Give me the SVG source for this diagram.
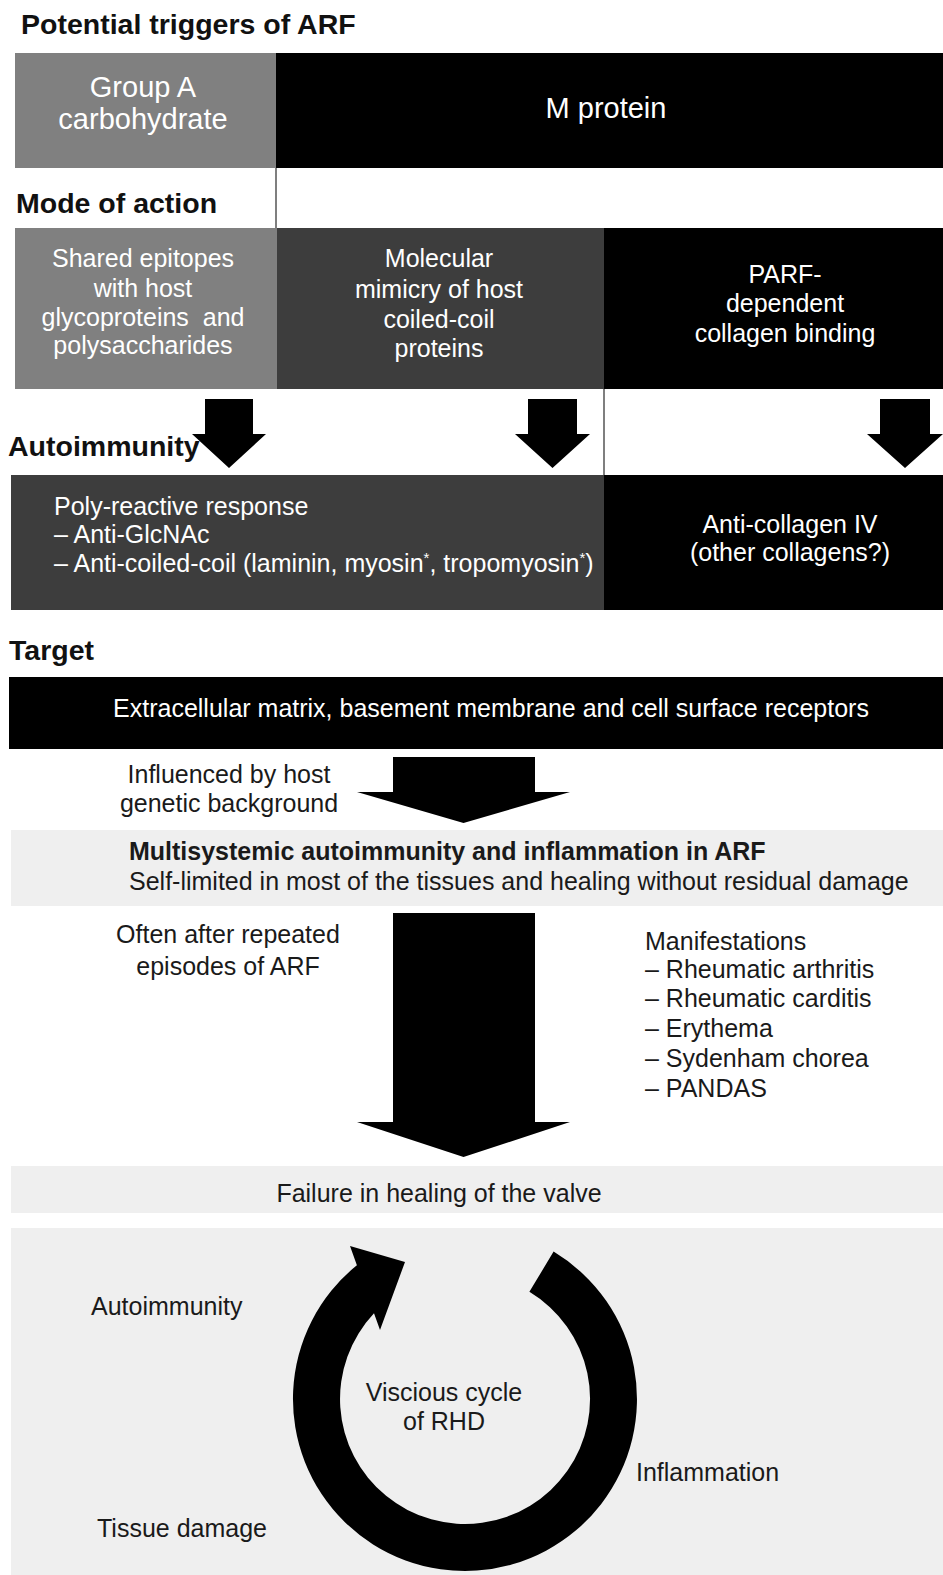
<svg xmlns="http://www.w3.org/2000/svg" width="943" height="1575" viewBox="0 0 943 1575">
<style>
text{font-family:"Liberation Sans",Arial,Helvetica,sans-serif;fill:#1a1a1a;}
.h{font-size:28.5px;font-weight:bold;fill:#111;}
.t29{font-size:29px;}
.b{font-size:25px;}
.w{fill:#fff;}
.c{text-anchor:middle;}
.mb{font-size:25px;font-weight:bold;}
.sup{font-size:15px;}
.gray{fill:#808080;}
.dark{fill:#3d3d3d;}
.black{fill:#000;}
.band{fill:#efefef;}
.sep{stroke:#555;stroke-width:1.5;fill:none;}
.arrow{fill:#000;}
</style>
<rect x="0" y="0" width="943" height="1575" fill="#fff"/>

<g id="labels">
<text class="h" x="21" y="34">Potential triggers of ARF</text>
<text class="h" x="16" y="213">Mode of action</text>
<text class="h" x="8" y="456">Autoimmunity</text>
<text class="h" x="9" y="660">Target</text>
</g>

<g id="group-a-carbohydrate">
<rect class="gray" x="15" y="53" width="261" height="115"/>
<text class="t29 w c" x="143" y="97">Group A</text>
<text class="t29 w c" x="143" y="129">carbohydrate</text>
</g>
<g id="m-protein">
<rect class="black" x="276" y="53" width="667" height="115"/>
<text class="t29 w c" x="606" y="118">M protein</text>
</g>
<g id="mode-separator">
<line class="sep" x1="276" y1="168" x2="276" y2="228"/>
</g>

<g id="shared-epitopes">
<rect class="gray" x="15" y="228" width="262" height="161"/>
<text class="b w c" x="143" y="267">Shared epitopes</text>
<text class="b w c" x="143" y="297">with host</text>
<text class="b w c" x="143" y="326" xml:space="preserve">glycoproteins  and</text>
<text class="b w c" x="143" y="354">polysaccharides</text>
</g>
<g id="molecular-mimicry">
<rect class="dark" x="277" y="228" width="327" height="161"/>
<text class="b w c" x="439" y="267">Molecular</text>
<text class="b w c" x="439" y="298">mimicry of host</text>
<text class="b w c" x="439" y="328">coiled-coil</text>
<text class="b w c" x="439" y="357">proteins</text>
</g>
<g id="parf-collagen">
<rect class="black" x="604" y="228" width="339" height="161"/>
<text class="b w c" x="785" y="283">PARF-</text>
<text class="b w c" x="785" y="312">dependent</text>
<text class="b w c" x="785" y="342">collagen binding</text>
</g>
<g id="arrow-row-separator">
<line class="sep" x1="604" y1="389" x2="604" y2="475"/>
</g>

<g id="poly-reactive">
<rect class="dark" x="11" y="475" width="593" height="135"/>
<text class="b w" x="54" y="515">Poly-reactive response</text>
<text class="b w" x="54" y="543">– Anti-GlcNAc</text>
<text class="b w" x="54" y="572">– Anti-coiled-coil (laminin, myosin<tspan class="sup" dy="-9">*</tspan><tspan dy="9">, tropomyosin</tspan><tspan class="sup" dy="-9">*</tspan><tspan dy="9">)</tspan></text>
</g>
<g id="anti-collagen">
<rect class="black" x="604" y="475" width="339" height="135"/>
<text class="b w c" x="790" y="533">Anti-collagen IV</text>
<text class="b w c" x="790" y="561">(other collagens?)</text>
</g>

<g id="target">
<rect class="black" x="9" y="677" width="934" height="72"/>
<text class="b w c" x="491" y="717">Extracellular matrix, basement membrane and cell surface receptors</text>
</g>

<g id="influenced-label">
<text class="b c" x="229" y="783">Influenced by host</text>
<text class="b c" x="229" y="812">genetic background</text>
</g>

<g id="multisystemic">
<rect class="band" x="11" y="830" width="932" height="76"/>
<text class="mb" x="129" y="860">Multisystemic autoimmunity and inflammation in ARF</text>
<text class="b" x="129" y="890">Self-limited in most of the tissues and healing without residual damage</text>
</g>

<g id="often-label">
<text class="b c" x="228" y="943">Often after repeated</text>
<text class="b c" x="228" y="975">episodes of ARF</text>
</g>

<g id="manifestations">
<text class="b" x="645" y="950">Manifestations</text>
<text class="b" x="645" y="978">– Rheumatic arthritis</text>
<text class="b" x="645" y="1007">– Rheumatic carditis</text>
<text class="b" x="645" y="1037">– Erythema</text>
<text class="b" x="645" y="1067">– Sydenham chorea</text>
<text class="b" x="645" y="1097">– PANDAS</text>
</g>

<g id="failure-healing">
<rect class="band" x="11" y="1166" width="932" height="47"/>
<text class="b c" x="439" y="1202">Failure in healing of the valve</text>
</g>

<g id="vicious-cycle">
<rect class="band" x="11" y="1228" width="932" height="347"/>
<path class="arrow" d="M 553.6 1251.6 A 172 172 0 1 1 356.9 1265.2 L 350 1246 L 405 1262 L 380 1330 L 374 1313.3 A 125 125 0 1 0 529.4 1291.8 Z"/>
<text class="b c" x="444" y="1401">Viscious cycle</text>
<text class="b c" x="444" y="1430">of RHD</text>
<text class="b" x="91" y="1315">Autoimmunity</text>
<text class="b" x="636" y="1481">Inflammation</text>
<text class="b" x="97" y="1537">Tissue damage</text>
</g>

<g id="connectors">
<path class="arrow" d="M205 399 H253 V434 H266 L229 468 L192 434 H205 Z"/>
<path class="arrow" d="M528 399 H577 V434 H590 L552.5 468 L515 434 H528 Z"/>
<path class="arrow" d="M880 399 H930 V434 H943 L905 468 L867 434 H880 Z"/>
<path class="arrow" d="M393 757 H535 V792 H570 L463.5 823 L357 792 H393 Z"/>
<path class="arrow" d="M393 913 H535 V1122 H570 L463.5 1157 L357 1122 H393 Z"/>
</g>
</svg>
